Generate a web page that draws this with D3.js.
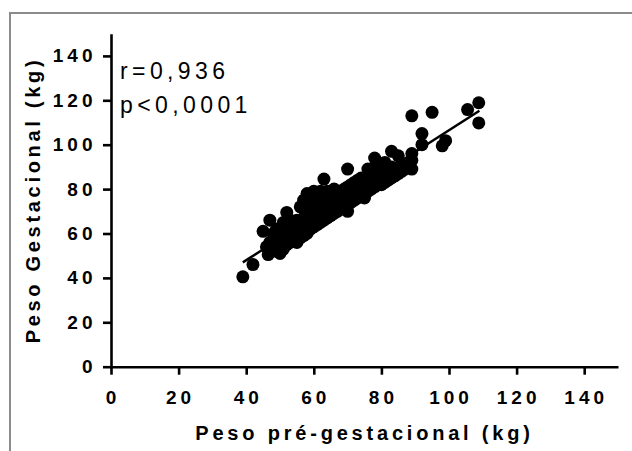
<!DOCTYPE html>
<html>
<head>
<meta charset="utf-8">
<script src="https://cdn.jsdelivr.net/npm/d3@7"></script>
<style>
  body { margin: 0; background: #fff; }
  svg { display: block; }
  text { font-family: "Liberation Sans", Arial, sans-serif; }
</style>
</head>
<body>
<svg id="chart" width="632" height="451"></svg>
<script>
// peso pré-gestacional (x) e peso gestacional (y), kg
const preWeight = [
  39, 42, 45, 46.5, 47, 46, 47,
  48, 48, 48, 49, 49, 49, 50, 50, 50,
  51, 51, 51, 51, 52, 52, 52, 52, 53, 53, 53, 53,
  54, 54, 54, 55, 55, 55, 55, 56, 56, 56, 56,
  57, 57, 57, 57, 58, 58, 58, 58, 59, 59, 59, 59,
  60, 60, 60, 60, 60, 61, 61, 61, 61, 62, 62, 62, 62,
  63, 63, 63, 63, 63, 64, 64, 64, 64, 65, 65, 65,
  66, 66, 66, 66, 67, 67, 67, 68, 68, 68, 69, 69, 69,
  70, 70, 70, 70, 70, 71, 71, 71, 72, 72, 72, 73, 73, 73,
  74, 74, 74, 75, 75, 75, 76, 76, 76, 77, 77, 77,
  78, 78, 78, 78, 79, 79, 79, 80, 80, 80, 81, 81, 81,
  82, 82, 82, 83, 83, 83, 84, 84, 85, 85, 86, 86, 87,
  89, 89, 89, 89, 92, 92, 95, 98, 99, 105.5, 108.8, 108.8
];
const gestWeight = [
  40.5, 46, 61, 50.5, 66, 54, 56,
  52, 57, 60, 54, 59, 62, 51, 56, 60,
  53, 58, 62, 65, 55, 60, 63, 69.5, 56, 59, 62, 66,
  57, 61, 64, 56, 60, 63, 66, 58, 62, 65, 72,
  59, 63, 67, 75, 60, 64, 68, 78, 62, 66, 70, 74,
  63, 67, 71, 76, 79, 64, 68, 72, 77, 65, 69, 73, 79,
  66, 70, 74, 78, 84.5, 67, 71, 75, 79, 68, 72, 76,
  69, 73, 77, 80, 70, 74, 78, 71, 75, 79, 72, 76, 80,
  70, 73, 77, 81, 89, 74, 78, 82, 75, 79, 83, 76, 80, 84,
  77, 81, 85, 76, 79, 83, 79, 83, 89, 80, 84, 88,
  81, 85, 90, 94, 82, 86, 91, 82, 86, 90, 83, 88, 92,
  84, 86, 89, 85, 90, 97, 86, 89, 87, 95, 88, 91, 89,
  89, 93, 96, 113, 100, 105, 114.6, 99.5, 101.8, 115.8, 118.9, 109.8
];
// reta de regressão (extremos)
const fitX = [39, 109];
const fitY = [47, 115.3];
const tickValues = [0, 20, 40, 60, 80, 100, 120, 140];
const statLines = ["r=0,936", "p<0,0001"];

const svg = d3.select("#chart");

// moldura cinza (esquerda e topo)
svg.append("path")
  .attr("d", "M10,451V13H632")
  .attr("fill", "none")
  .attr("stroke", "#8c8c8c")
  .attr("stroke-width", 2);

const x = d3.scaleLinear().domain([0, 150]).range([111, 618]);
const y = d3.scaleLinear().domain([0, 150]).range([366.7, 33.7]);

const g = svg.append("g");

// pontos
g.selectAll("circle.pt")
  .data(preWeight.map((v, i) => [v, gestWeight[i]]))
  .join("circle")
  .attr("class", "pt")
  .attr("cx", d => x(d[0]))
  .attr("cy", d => y(d[1]))
  .attr("r", 6.5)
  .attr("fill", "#000");

// regressão
g.append("path")
  .datum(fitX.map((v, i) => [v, fitY[i]]))
  .attr("d", d3.line().x(d => x(d[0])).y(d => y(d[1])))
  .attr("stroke", "#000")
  .attr("stroke-width", 2.5)
  .attr("fill", "none");

// eixos
const xAxis = g.append("g")
  .attr("transform", `translate(0,${y(0)})`)
  .call(d3.axisBottom(x).tickValues(tickValues).tickSize(8).tickSizeOuter(0));
const yAxis = g.append("g")
  .attr("transform", `translate(${x(0)},0)`)
  .call(d3.axisLeft(y).tickValues(tickValues).tickSize(8).tickSizeOuter(0));

[xAxis, yAxis].forEach(a => {
  a.select(".domain").attr("stroke", "#000").attr("stroke-width", 2.6);
  a.selectAll(".tick line").attr("stroke", "#000").attr("stroke-width", 2.6);
  a.selectAll(".tick text")
    .attr("fill", "#000")
    .style("font-family", '"Liberation Sans", Arial, sans-serif')
    .style("font-size", "19px")
    .style("font-weight", "bold")
    .style("letter-spacing", "4px");
});
xAxis.selectAll(".tick text").attr("y", 37).attr("dy", "0").attr("x", 1.5);
yAxis.selectAll(".tick text").attr("x", -14.5);

// títulos
svg.append("text")
  .attr("x", 364.5)
  .attr("y", 440)
  .attr("text-anchor", "middle")
  .style("font-size", "20px")
  .style("font-weight", "bold")
  .style("letter-spacing", "3.8px")
  .text("Peso pré-gestacional (kg)");

svg.append("text")
  .attr("transform", "translate(40,200) rotate(-90)")
  .attr("text-anchor", "middle")
  .style("font-size", "20px")
  .style("font-weight", "bold")
  .style("letter-spacing", "3.7px")
  .text("Peso Gestacional (kg)");

svg.selectAll("text.stat")
  .data(statLines)
  .join("text")
  .attr("class", "stat")
  .attr("x", 120)
  .attr("y", (d, i) => 79 + i * 34)
  .style("font-size", "23px")
  .style("letter-spacing", "4.4px")
  .text(d => d);
</script>
</body>
</html>
